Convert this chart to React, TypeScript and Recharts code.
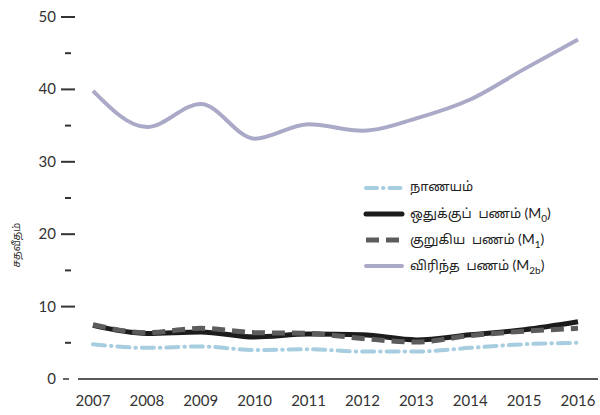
import React from "react";
import { Line, LineChart, XAxis, YAxis } from "recharts";

const years = ["2007", "2008", "2009", "2010", "2011", "2012", "2013", "2014", "2015", "2016"];
const currency = [4.8, 4.3, 4.5, 4.0, 4.1, 3.8, 3.8, 4.3, 4.8, 5.0];
const m0 = [7.4, 6.3, 6.5, 5.8, 6.2, 6.1, 5.4, 6.1, 6.8, 7.9];
const m1 = [7.5, 6.4, 7.0, 6.4, 6.3, 5.6, 5.1, 6.0, 6.6, 7.0];
const m2b = [39.8, 34.8, 38.0, 33.2, 35.2, 34.3, 36.0, 38.6, 42.8, 46.9];
const yTicks = [0, 5, 10, 15, 20, 25, 30, 35, 40, 45, 50];

const data = years.map((year, i) => ({
  year,
  currency: currency[i],
  m0: m0[i],
  m1: m1[i],
  m2b: m2b[i],
}));

const FONT = "Lato, 'Noto Sans', sans-serif";
const TAMIL = "'Noto Sans Tamil', 'Noto Sans', sans-serif";
const TEXT = "#333";

const SERIES = [
  { key: "currency", color: "#a6cde0", width: 4, dash: "11 6 0.5 6", cap: "round", label: "நாணயம்", sub: "" },
  { key: "m0", color: "#1c1c1c", width: 5, dash: undefined, cap: "round", label: "ஒதுக்குப்  பணம் ", sub: "0" },
  { key: "m1", color: "#5c5c5c", width: 5, dash: "13 7", cap: "butt", label: "குறுகிய  பணம் ", sub: "1" },
  { key: "m2b", color: "#aaaac8", width: 4, dash: undefined, cap: "round", label: "விரிந்த  பணம் ", sub: "2b" },
];

function YTick(props: any) {
  const { x, y, payload } = props;
  const v = payload.value;
  const major = v % 10 === 0;
  if (v === 0) {
    return (
      <g>
        <text x={x - 22} y={y} dy={5} textAnchor="end" fontSize={15} fill={TEXT} fontFamily={FONT}>0</text>
        <line x1={x - 15} x2={x - 9} y1={y} y2={y} stroke={TEXT} strokeWidth={1.5} />
      </g>
    );
  }
  return (
    <g>
      {major && (
        <text x={x - 22} y={y} dy={5} textAnchor="end" fontSize={15} fill={TEXT} fontFamily={FONT}>
          {v}
        </text>
      )}
      <line
        x1={major ? x - 17 : x - 13}
        x2={major ? x - 3 : x - 7}
        y1={y}
        y2={y}
        stroke={TEXT}
        strokeWidth={2}
      />
    </g>
  );
}

function LegendBox() {
  return (
    <div
      style={{
        position: "absolute",
        left: 362,
        top: 175,
        fontFamily: TAMIL,
        fontSize: 13,
        color: "#222",
        whiteSpace: "pre",
      }}
    >
      {SERIES.map((s) => (
        <div key={s.key} style={{ display: "flex", alignItems: "center", height: 26 }}>
          <svg width={44} height={10} style={{ marginRight: 4 }}>
            <line
              x1={4}
              x2={40}
              y1={5}
              y2={5}
              stroke={s.color}
              strokeWidth={s.width}
              strokeDasharray={s.dash}
              strokeLinecap={s.cap as any}
            />
          </svg>
          <span>
            {s.label}
            {s.sub && (
              <span style={{ fontFamily: FONT, fontSize: 14 }}>
                (M<sub style={{ fontSize: 10 }}>{s.sub}</sub>)
              </span>
            )}
          </span>
        </div>
      ))}
    </div>
  );
}

export default function App() {
  return (
    <div style={{ position: "absolute", left: 0, top: 0, width: 600, height: 415, background: "#fff" }}>
      <LineChart width={600} height={415} data={data} margin={{ top: 17, right: 2, bottom: 6, left: 0 }}>
        <XAxis
          dataKey="year"
          height={30}
          padding={{ left: 15, right: 20 }}
          axisLine={{ stroke: "#222", strokeWidth: 1.5 }}
          tickLine={false}
          tickMargin={10}
          interval={0}
          tick={{ fontSize: 15, fill: TEXT, fontFamily: FONT }}
        />
        <YAxis
          width={78}
          domain={[0, 50]}
          ticks={yTicks}
          interval={0}
          axisLine={false}
          tickLine={false}
          tickSize={0}
          tickMargin={0}
          tick={<YTick />}
          label={{
            content: (p: any) => {
              const vb = p.viewBox;
              const cx = 20;
              const cy = vb.y + vb.height * 0.63;
              return (
                <text
                  x={cx}
                  y={cy}
                  transform={`rotate(-90 ${cx} ${cy})`}
                  textAnchor="middle"
                  fontSize={10.5}
                  fill={TEXT}
                  fontFamily={TAMIL}
                >
                  சதவீதம்
                </text>
              );
            },
          }}
        />
        <Line type="monotone" dataKey="m2b" stroke="#aaaac8" strokeWidth={4} dot={false} isAnimationActive={false} />
        <Line
          type="monotone"
          dataKey="currency"
          stroke="#a6cde0"
          strokeWidth={4}
          strokeDasharray="12 6 0.5 6"
          strokeLinecap="round"
          dot={false}
          isAnimationActive={false}
        />
        <Line type="monotone" dataKey="m0" stroke="#1c1c1c" strokeWidth={5} dot={false} isAnimationActive={false} />
        <Line
          type="monotone"
          dataKey="m1"
          stroke="#5c5c5c"
          strokeWidth={5}
          strokeDasharray="13 7"
          dot={false}
          isAnimationActive={false}
        />
      </LineChart>
      <LegendBox />
    </div>
  );
}
